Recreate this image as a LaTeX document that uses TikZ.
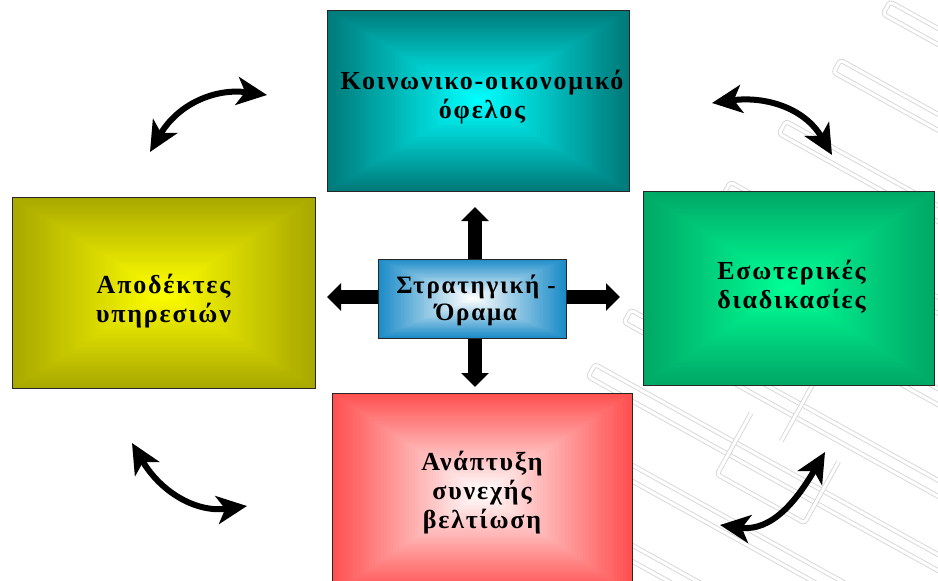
\documentclass[tikz,border=0pt]{standalone}
\usepackage{fontspec}
\setmainfont{Liberation Serif}[LetterSpace=7]
\usetikzlibrary{arrows.meta,calc}

\definecolor{tealedge}{RGB}{0,122,122}
\definecolor{tealmid}{RGB}{0,255,255}
\definecolor{oliveedge}{RGB}{168,168,0}
\definecolor{olivemid}{RGB}{255,255,0}
\definecolor{greenedge}{RGB}{0,168,102}
\definecolor{greenmid}{RGB}{0,255,150}
\definecolor{rededge}{RGB}{255,80,80}
\definecolor{redmid}{RGB}{255,255,255}
\definecolor{blueedge}{RGB}{28,140,200}
\definecolor{bluemid}{RGB}{255,255,255}

\begin{document}
\begin{tikzpicture}[x=1pt,y=-1pt,
  % rectangular gradient: edge colour #1 fading to centre colour #2
  boxgrad/.style 2 args={path picture={
    \foreach \i in {0,...,48}{
      \pgfmathsetmacro\h{\i/98}
      \pgfmathtruncatemacro\p{100*\i/48}
      \fill[#2!\p!#1]
        ($(path picture bounding box.north west)!\h!(path picture bounding box.south east)$)
        rectangle
        ($(path picture bounding box.south east)!\h!(path picture bounding box.north west)$);
    }}},
  card/.style={draw=black!85, line width=1pt, inner sep=0pt},
  cardtext/.style={align=center, inner sep=0pt,
    font=\fontsize{26}{29}\selectfont\bfseries},
  hubtext/.style={align=center, inner sep=0pt,
    font=\fontsize{25}{27}\selectfont\bfseries},
  blk/.style={line width=14pt, -{Triangle[length=14pt,width=27pt]}},
  cv/.style={line width=6pt,
    {Stealth[length=30pt,width=28pt,inset=8pt]}-{Stealth[length=30pt,width=28pt,inset=8pt]}},
  wm/.style={draw=gray!32, line width=0.9pt, double=white, double distance=3pt,
    rounded corners=3pt}]

\useasboundingbox (0,0) rectangle (938,581);
\path[clip] (0,0) rectangle (938,581);

% faint meander emblem in the background
\begin{scope}[shift={(782,316)}, x={(0.875pt,-0.485pt)}, y={(0.485pt,0.875pt)}]
  \foreach \v/\u in {320/-58, 245/-73, 165/-91, 85/-110, 5/-125, -75/-135, -140/-140, -210/-130, -280/-120}{
    \draw[wm] (\u,\v+7) -- (600,\v+7) -- (600,\v-7) -- (\u,\v-7) -- cycle;
  }
  \draw[wm] (20,-100) -- (20,-170) -- (120,-170) -- (120,-100);
  \draw[wm] (60,-40) -- (60,-110);
\end{scope}

% the five cards
\node[card, boxgrad={tealedge}{tealmid}, minimum width=302pt, minimum height=181pt]
  (soc) at (478,100.5) {};
\node[card, boxgrad={oliveedge}{olivemid}, minimum width=303pt, minimum height=191pt]
  (cust) at (163.5,292.5) {};
\node[card, boxgrad={greenedge}{greenmid}, minimum width=291pt, minimum height=194pt]
  (proc) at (788.5,288) {};
\node[card, boxgrad={rededge}{redmid}, minimum width=300pt, minimum height=200pt]
  (grow) at (482,493) {};
\node[card, boxgrad={blueedge}{bluemid}, minimum width=188pt, minimum height=79pt]
  (vis) at (472,298.5) {};

% card captions
\node[cardtext] (socT)  at ($(soc.center)+(4,-3)$)  {Κοινωνικο-οικονομικό\\όφελος};
\node[cardtext] (custT) at ($(cust.center)+(0,9)$)  {Αποδέκτες\\υπηρεσιών};
\node[cardtext] (procT) at ($(proc.center)+(3,-1)$) {Εσωτερικές\\διαδικασίες};
\node[cardtext] (growT) at ($(grow.center)+(0,0)$)  {Ανάπτυξη\\συνεχής\\βελτίωση};
\node[hubtext]  (visT)  at ($(vis.center)+(4,2)$)   {Στρατηγική -\\Όραμα};

% block arrows out of the hub
\coordinate (tipN) at (475,207);
\coordinate (tipS) at (475,387);
\coordinate (tipW) at (327,297);
\coordinate (tipE) at (620,297);
\draw[blk] (vis.north -| tipN) -- (tipN);
\draw[blk] (vis.south -| tipS) -- (tipS);
\draw[blk] (vis.west |- tipW) -- (tipW);
\draw[blk] (vis.east |- tipE) -- (tipE);

% curved two-way arrows between neighbouring cards
\coordinate (a1) at (150,152);
\coordinate (b1) at (267,95);
\coordinate (a2) at (712,103);
\coordinate (b2) at (832,155);
\coordinate (a3) at (132,443);
\coordinate (b3) at (247,506);
\coordinate (a4) at (825,452);
\coordinate (b4) at (720,525);
\draw[cv] (a1) .. controls (178,104) and (215,88) .. (b1);
\draw[cv] (a2) .. controls (764,96) and (804,107) .. (b2);
\draw[cv] (a3) .. controls (160,491) and (195,513) .. (b3);
\draw[cv] (a4) .. controls (797,500) and (772,532) .. (b4);
\end{tikzpicture}
\end{document}
